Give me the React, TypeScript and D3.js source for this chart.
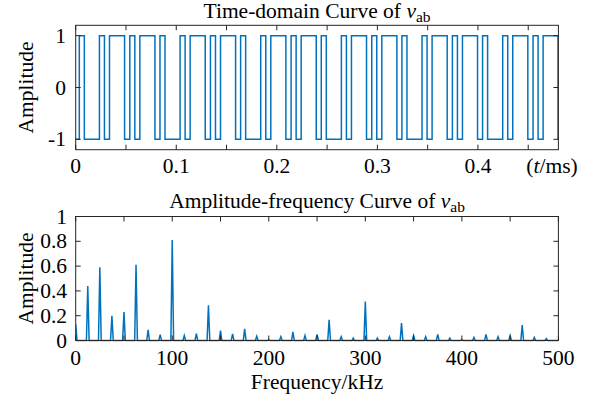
import React from "react";
import * as d3 from "d3";

// ---------- Data ----------
// Switching instants of v_ab (ms), level starts at -1 and toggles at each instant
const initialLevel = -1;
const switchTimesMs = [
  0.0036, 0.0086, 0.0236, 0.0286, 0.0336, 0.0486,
  0.0538, 0.0588, 0.0638, 0.0788, 0.0838, 0.0888, 0.1038, 0.1088, 0.1138, 0.1288,
  0.134, 0.139, 0.144, 0.159, 0.164, 0.169, 0.184, 0.189, 0.194, 0.209,
  0.2142, 0.2192, 0.2242, 0.2392, 0.2442, 0.2492, 0.2642, 0.2692, 0.2742, 0.2892,
  0.2944, 0.2994, 0.3044, 0.3194, 0.3244, 0.3294, 0.3444, 0.3494, 0.3544, 0.3694,
  0.3746, 0.3796, 0.3846, 0.3996, 0.4046, 0.4096, 0.4246, 0.4296, 0.4346, 0.4496,
  0.4548, 0.4598, 0.4648, 0.4796,
];
const timeEndMs = 0.48;

// Harmonic frequencies (kHz) and amplitudes
const harmonicFreqs = [
  0, 12.5, 25, 37.5, 50, 62.5, 75, 87.5, 100, 112.5, 125, 137.5, 150, 162.5, 175, 187.5,
  200, 212.5, 225, 237.5, 250, 262.5, 275, 287.5, 300, 312.5, 325, 337.5, 350, 362.5,
  375, 387.5, 400, 412.5, 425, 437.5, 450, 462.5, 475, 487.5, 500,
];
const harmonicAmps = [
  0.13, 0.44, 0.59, 0.2, 0.23, 0.61, 0.086, 0.048, 0.81, 0.04, 0.056, 0.285, 0.08, 0.054, 0.094, 0.035,
  0.005, 0.03, 0.07, 0.04, 0.05, 0.167, 0.03, 0.02, 0.315, 0.02, 0.03, 0.14, 0.04, 0.03,
  0.05, 0.02, 0.005, 0.025, 0.05, 0.03, 0.04, 0.125, 0.025, 0.015, 0,
];
const freqResolution = 1.4; // kHz, spectral bin width

const timeTicks = [0, 0.05, 0.1, 0.15, 0.2, 0.25, 0.3, 0.35, 0.4, 0.45];
const timeTickLabels = ["0", "0.1", "0.2", "0.3", "0.4"];
const timeLabelValues = [0, 0.1, 0.2, 0.3, 0.4];
const ampTicksTop = [-1, 0, 1];
const freqTicks = [0, 50, 100, 150, 200, 250, 300, 350, 400, 450, 500];
const freqLabelValues = [0, 100, 200, 300, 400, 500];
const ampTicksBottom = [0, 0.2, 0.4, 0.6, 0.8, 1];
const ampTickLabelsBottom = ["0", "0.2", "0.4", "0.6", "0.8", "1"];

// ---------- Layout ----------
const W = 600;
const H = 396;
const left = 75.7;
const right = 558.4;
const top1 = 25.3;
const bot1 = 149.7;
const top2 = 216.5;
const bot2 = 340.5;
const BLUE = "#0072BD";
const AX = "#262626";
const FONT = "'Liberation Serif', 'Times New Roman', serif";
const FS = 21.5;
const TICK = 5;

export default function App() {
  const xT = d3.scaleLinear().domain([0, timeEndMs]).range([left, right]);
  const yT = d3.scaleLinear().domain([-1.2, 1.2]).range([bot1, top1]);
  const xF = d3.scaleLinear().domain([0, 500]).range([left, right]);
  const yF = d3.scaleLinear().domain([0, 1]).range([bot2, top2]);

  // step waveform
  const stepPts: [number, number][] = [];
  let lvl = initialLevel;
  stepPts.push([0, lvl]);
  switchTimesMs.forEach((t) => {
    stepPts.push([t, lvl]);
    lvl = -lvl;
    stepPts.push([t, lvl]);
  });
  stepPts.push([timeEndMs, lvl]);
  const lineT = d3.line<[number, number]>().x((d) => xT(d[0])).y((d) => yT(d[1]));

  // spectrum
  const specPts: [number, number][] = [];
  harmonicFreqs.forEach((f, i) => {
    const a = harmonicAmps[i];
    if (f - freqResolution >= 0) specPts.push([f - freqResolution, 0]);
    specPts.push([f, a]);
    if (f + freqResolution <= 500) specPts.push([f + freqResolution, 0]);
  });
  const lineF = d3.line<[number, number]>().x((d) => xF(d[0])).y((d) => yF(d[1]));

  const textStyle = { fontFamily: FONT, fontSize: FS, fill: "#000" } as const;

  return (
    <svg
      width={W}
      height={H}
      style={{ position: "absolute", left: 0, top: 0, background: "#fff" }}
    >
      <defs>
        <clipPath id="c1">
          <rect x={left} y={top1} width={right - left} height={bot1 - top1} />
        </clipPath>
        <clipPath id="c2">
          <rect x={left} y={top2 - 2} width={right - left} height={bot2 - top2 + 4} />
        </clipPath>
      </defs>

      {/* ---------- Top plot ---------- */}
      <path
        d={lineT(stepPts) || ""}
        fill="none"
        stroke={BLUE}
        strokeWidth={1.5}
        clipPath="url(#c1)"
      />
      <rect x={left} y={top1} width={right - left} height={bot1 - top1} fill="none" stroke={AX} strokeWidth={1} />
      {timeTicks.map((t) => (
        <g key={"tt" + t}>
          <line x1={xT(t)} x2={xT(t)} y1={bot1} y2={bot1 - TICK} stroke={AX} />
          <line x1={xT(t)} x2={xT(t)} y1={top1} y2={top1 + TICK} stroke={AX} />
        </g>
      ))}
      {timeLabelValues.map((t, i) => (
        <text key={"tl" + t} x={xT(t)} y={173} textAnchor="middle" style={textStyle}>
          {timeTickLabels[i]}
        </text>
      ))}
      <text x={552} y={173} textAnchor="middle" style={textStyle}>
        (<tspan fontStyle="italic">t</tspan>/ms)
      </text>
      {ampTicksTop.map((v) => (
        <g key={"at" + v}>
          <line x1={left} x2={left + TICK} y1={yT(v)} y2={yT(v)} stroke={AX} />
          <line x1={right} x2={right - TICK} y1={yT(v)} y2={yT(v)} stroke={AX} />
          <text x={66} y={yT(v) + 7} textAnchor="end" style={textStyle}>
            {v === -1 ? "-1" : String(v)}
          </text>
        </g>
      ))}
      <text
        transform={`translate(33, ${(top1 + bot1) / 2}) rotate(-90)`}
        textAnchor="middle"
        style={textStyle}
      >
        Amplitude
      </text>
      <text x={(left + right) / 2} y={18} textAnchor="middle" style={textStyle}>
        Time-domain Curve of <tspan fontStyle="italic">v</tspan>
        <tspan fontSize={FS * 0.72} dy={4}>ab</tspan>
      </text>

      {/* ---------- Bottom plot ---------- */}
      <path
        d={lineF(specPts) || ""}
        fill="none"
        stroke={BLUE}
        strokeWidth={1.5}
        clipPath="url(#c2)"
      />
      <rect x={left} y={top2} width={right - left} height={bot2 - top2} fill="none" stroke={AX} strokeWidth={1} />
      {freqTicks.map((f) => (
        <g key={"ft" + f}>
          <line x1={xF(f)} x2={xF(f)} y1={bot2} y2={bot2 - TICK} stroke={AX} />
          <line x1={xF(f)} x2={xF(f)} y1={top2} y2={top2 + TICK} stroke={AX} />
        </g>
      ))}
      {freqLabelValues.map((f) => (
        <text key={"fl" + f} x={xF(f)} y={365} textAnchor="middle" style={textStyle}>
          {String(f)}
        </text>
      ))}
      {ampTicksBottom.map((v, i) => (
        <g key={"ab" + v}>
          <line x1={left} x2={left + TICK} y1={yF(v)} y2={yF(v)} stroke={AX} />
          <line x1={right} x2={right - TICK} y1={yF(v)} y2={yF(v)} stroke={AX} />
          <text x={67} y={yF(v) + 7} textAnchor="end" style={textStyle}>
            {ampTickLabelsBottom[i]}
          </text>
        </g>
      ))}
      <text
        transform={`translate(33, ${(top2 + bot2) / 2}) rotate(-90)`}
        textAnchor="middle"
        style={textStyle}
      >
        Amplitude
      </text>
      <text x={(left + right) / 2} y={208} textAnchor="middle" style={textStyle}>
        Amplitude-frequency Curve of <tspan fontStyle="italic">v</tspan>
        <tspan fontSize={FS * 0.72} dy={4}>ab</tspan>
      </text>
      <text x={(left + right) / 2} y={389} textAnchor="middle" style={textStyle}>
        Frequency/kHz
      </text>
    </svg>
  );
}
